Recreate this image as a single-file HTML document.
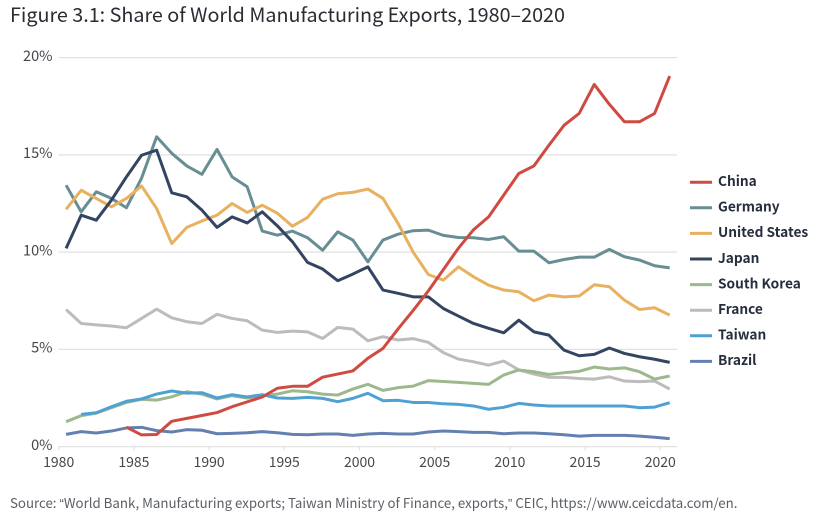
<!DOCTYPE html>
<html lang="en">
<head>
<meta charset="utf-8">
<title>Share of World Manufacturing Exports, 1980–2020</title>
<style>
html,body{margin:0;padding:0;background:#fff;}
body{width:828px;height:522px;overflow:hidden;position:relative;font-family:"Noto Sans CJK SC","Liberation Sans",sans-serif;}
#chart-title{position:absolute;left:10px;top:-1px;margin:0;font-size:19.75px;line-height:30px;font-weight:400;color:#2b2b33;white-space:nowrap;}
#chart-source{position:absolute;left:10px;top:493px;font-size:13.27px;line-height:20px;color:#5a5f66;white-space:nowrap;}
#chart-source .q{font-family:"Liberation Sans",sans-serif;}
svg{position:absolute;left:0;top:0;}
svg text{font-family:"Noto Sans CJK SC","Liberation Sans",sans-serif;}
</style>
</head>
<body>
<h1 id="chart-title">Figure 3.1: Share of World Manufacturing Exports, 1980–2020</h1>
<svg id="chart" width="828" height="522" viewBox="0 0 828 522" xmlns="http://www.w3.org/2000/svg"></svg>
<div id="chart-source">Source: <span class="q">“</span>World Bank, Manufacturing exports; Taiwan Ministry of Finance, exports,<span class="q">”</span> CEIC, https://www.ceicdata.com/en.</div>
<script>
var firstYear = 1980;
var xTickLabels = [1980,1985,1990,1995,2000,2005,2010,2015,2020];
var yTickValues = [0,5,10,15,20];

var china = [null,null,null,null,1.0,0.6,0.62,1.3,1.45,1.6,1.75,2.05,2.3,2.55,3.0,3.1,3.1,3.57,3.73,3.89,4.54,5.05,6.05,7.0,8.0,9.1,10.2,11.15,11.81,12.93,14.04,14.43,15.5,16.52,17.13,18.62,17.6,16.7,16.7,17.13,19.05];
var germany = [13.44,12.07,13.1,12.76,12.28,13.8,15.93,15.08,14.43,14.0,15.28,13.87,13.36,11.08,10.87,11.08,10.74,10.1,11.04,10.62,9.5,10.62,10.92,11.1,11.13,10.86,10.75,10.74,10.65,10.79,10.05,10.05,9.45,9.62,9.74,9.74,10.14,9.76,9.59,9.3,9.19];
var unitedStates = [12.2,13.18,12.76,12.33,12.76,13.4,12.24,10.44,11.27,11.6,11.9,12.5,12.04,12.41,12.0,11.33,11.78,12.72,13.0,13.07,13.24,12.76,11.47,10.0,8.85,8.56,9.24,8.73,8.3,8.05,7.96,7.5,7.79,7.7,7.74,8.32,8.22,7.53,7.05,7.14,6.76];
var japan = [10.19,11.9,11.64,12.67,13.87,14.98,15.24,13.05,12.84,12.16,11.27,11.81,11.5,12.07,11.35,10.53,9.47,9.13,8.53,8.87,9.24,8.05,7.88,7.7,7.7,7.1,6.71,6.33,6.08,5.85,6.5,5.9,5.73,4.96,4.67,4.74,5.07,4.79,4.62,4.49,4.33];
var southKorea = [1.28,1.59,1.72,2.0,2.27,2.43,2.39,2.56,2.82,2.7,2.45,2.62,2.5,2.6,2.7,2.87,2.82,2.7,2.65,2.96,3.2,2.89,3.03,3.11,3.39,3.35,3.3,3.25,3.2,3.68,3.94,3.85,3.71,3.8,3.87,4.09,3.99,4.05,3.85,3.47,3.63];
var france = [7.05,6.33,6.26,6.2,6.11,6.59,7.07,6.62,6.42,6.33,6.8,6.59,6.47,5.99,5.87,5.94,5.9,5.56,6.13,6.04,5.44,5.65,5.48,5.55,5.36,4.83,4.5,4.36,4.19,4.4,3.94,3.73,3.56,3.56,3.5,3.47,3.59,3.37,3.34,3.37,2.96];
var taiwan = [null,1.66,1.74,2.05,2.33,2.45,2.7,2.86,2.75,2.77,2.5,2.67,2.55,2.67,2.5,2.48,2.53,2.48,2.31,2.48,2.74,2.36,2.38,2.27,2.27,2.2,2.17,2.09,1.92,2.02,2.22,2.14,2.09,2.09,2.09,2.09,2.09,2.09,2.0,2.03,2.26];
var brazil = [0.63,0.77,0.7,0.8,0.96,0.99,0.82,0.75,0.87,0.84,0.66,0.68,0.71,0.77,0.71,0.63,0.61,0.65,0.65,0.58,0.65,0.68,0.65,0.65,0.75,0.8,0.77,0.73,0.73,0.66,0.7,0.7,0.66,0.61,0.54,0.58,0.58,0.58,0.54,0.48,0.41];

var seriesNames = ["China","Germany","United States","Japan","South Korea","France","Taiwan","Brazil"];
var seriesValues = [china,germany,unitedStates,japan,southKorea,france,taiwan,brazil];
var seriesColors = ["#cf4b42","#678e92","#e8b160","#344562","#9db88c","#bcbcbc","#4fa1d3","#6480b1"];
var drawOrder = ["France","Germany","United States","Japan","South Korea","Taiwan","Brazil","China"];

var NS = "http://www.w3.org/2000/svg";
var svg = document.getElementById("chart");
var plot = {left:58.7,right:677,top:57.6,bottom:446.6,yMax:20,tickStep:15.04,pointStart:66.1,pointStep:15.09};

function xScale(year){ return plot.pointStart + (year - firstYear) * plot.pointStep; }
function xEdge(year){ return plot.left + (year - firstYear) * plot.tickStep; }
function yScale(v){ return plot.bottom - (v / plot.yMax) * (plot.bottom - plot.top); }
function slug(s){ return s.toLowerCase().replace(/\s+/g,"-"); }
function make(tag, attrs, text){
  var el = document.createElementNS(NS, tag);
  for (var k in attrs) el.setAttribute(k, attrs[k]);
  if (text !== undefined) el.textContent = text;
  svg.appendChild(el);
  return el;
}

yTickValues.forEach(function(v){
  var line = make("line",{x1:plot.left,x2:plot.right,y1:yScale(v),y2:yScale(v),stroke:"#e2e2e2","stroke-width":1.3});
  
  
  var label = make("text",{x:52.5,y:yScale(v)+3.2,"text-anchor":"end","font-size":"14.5px",fill:"#45474d"}, v + "%");
  
  
});

xTickLabels.forEach(function(year){
  var tick = make("line",{x1:xEdge(year),x2:xEdge(year),y1:plot.bottom,y2:plot.bottom+4,stroke:"#e2e2e2","stroke-width":1.2});
  
  
  var label = make("text",{x:xEdge(year),y:467,"text-anchor":"middle","font-size":"14px",fill:"#45474d"}, String(year));
  
  
});

drawOrder.forEach(function(name){
  var i = seriesNames.indexOf(name);
  var values = seriesValues[i];
  var d = "";
  values.forEach(function(v, idx){
    if (v === null) return;
    d += (d === "" ? "M" : "L") + xScale(firstYear + idx).toFixed(2) + " " + yScale(v).toFixed(2);
  });
  var path = make("path",{d:d,fill:"none",stroke:seriesColors[i],"stroke-width":3,"stroke-linejoin":"round","stroke-linecap":"butt"});
  
  
});

seriesNames.forEach(function(name, i){
  var y = 182.2 + i * 25.6;
  var swatch = make("line",{x1:690,x2:712,y1:y,y2:y,stroke:seriesColors[i],"stroke-width":3});
  
  
  var label = make("text",{x:718,y:y+3.8,"font-size":"13.7px","font-weight":"700",fill:"#262e3e"}, name);
  
  
});
</script>
</body>
</html>
